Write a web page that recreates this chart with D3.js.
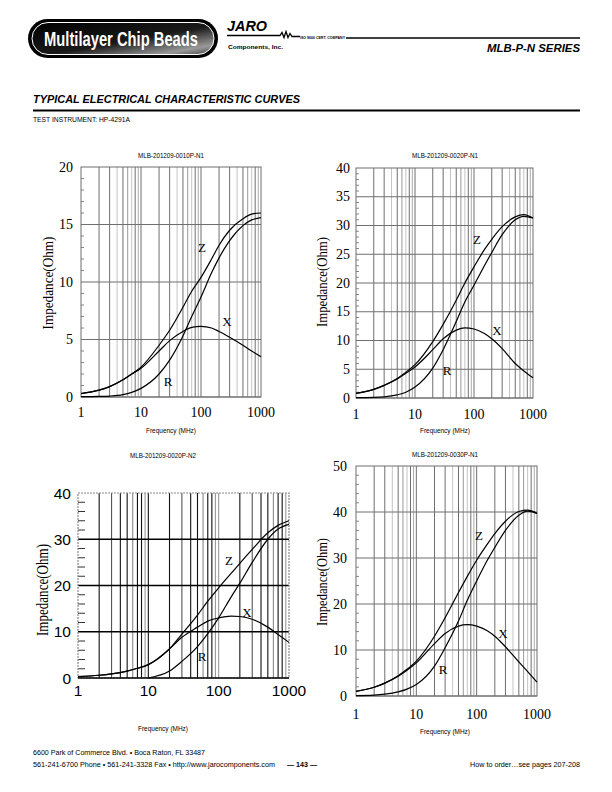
<!DOCTYPE html>
<html><head><meta charset="utf-8">
<script src="https://cdn.jsdelivr.net/npm/d3@7"></script>
<style>body{margin:0;background:#fff}svg{display:block}</style>
</head><body>
<svg id="page" width="612" height="792"></svg>
<script>
// ---------------- DATA ----------------
const freqs = [1, 2, 3, 5, 7, 10, 20, 30, 50, 70, 100, 150, 200, 300, 500, 700, 1000];
const xTickValues = [1, 10, 100, 1000];
const xTickLabels = ["1", "10", "100", "1000"];

// Chart 1: MLB-201209-0010P-N1
const c1Title = "MLB-201209-0010P-N1";
const c1YTicks = [0, 5, 10, 15, 20];
const c1Z = [0.3, 0.6, 0.9, 1.5, 2.0, 2.6, 4.5, 5.8, 7.8, 9.2, 10.4, 12.0, 13.2, 14.5, 15.5, 15.9, 16.0];
const c1X = [0.3, 0.6, 0.9, 1.5, 2.0, 2.5, 4.0, 4.9, 5.7, 6.05, 6.15, 6.0, 5.7, 5.2, 4.5, 4.0, 3.5];
const c1R = [0.03, 0.05, 0.08, 0.2, 0.4, 0.75, 2.0, 3.2, 5.3, 7.0, 8.7, 10.8, 12.1, 13.6, 14.9, 15.4, 15.6];

// Chart 2: MLB-201209-0020P-N1
const c2Title = "MLB-201209-0020P-N1";
const c2YTicks = [0, 5, 10, 15, 20, 25, 30, 35, 40];
const c2Z = [0.8, 1.5, 2.2, 3.4, 4.5, 5.8, 9.8, 12.8, 17.0, 20.0, 22.8, 25.8, 27.6, 29.8, 31.5, 31.9, 31.3];
const c2X = [0.8, 1.5, 2.2, 3.3, 4.3, 5.4, 8.4, 10.3, 11.8, 12.2, 12.0, 11.2, 10.3, 8.6, 6.0, 4.7, 3.5];
const c2R = [0.05, 0.1, 0.2, 0.55, 1.0, 1.9, 5.2, 8.4, 13.3, 16.7, 19.6, 23.0, 25.3, 28.4, 31.0, 31.6, 31.3];

// Chart 3: MLB-201209-0020P-N2
const c3Title = "MLB-201209-0020P-N2";
const c3YTicks = [0, 10, 20, 30, 40];
const c3Z = [0.3, 0.6, 0.9, 1.5, 2.1, 2.9, 6.3, 9.5, 13.6, 16.6, 19.5, 22.6, 24.8, 27.8, 31.4, 33.0, 34.0];
const c3X = [0.3, 0.6, 0.9, 1.5, 2.1, 2.9, 6.3, 8.8, 11.0, 12.3, 13.0, 13.4, 13.3, 12.7, 11.0, 9.4, 7.7];
const c3R = [null, null, null, null, null, 0, 1.5, 3.6, 6.8, 9.6, 13.0, 17.5, 20.5, 25.0, 30.0, 32.2, 33.2];

// Chart 4: MLB-201209-0030P-N1
const c4Title = "MLB-201209-0030P-N1";
const c4YTicks = [0, 10, 20, 30, 40, 50];
const c4Z = [1.0, 1.9, 2.8, 4.4, 5.8, 7.6, 13.0, 17.0, 22.5, 26.0, 29.5, 33.0, 35.3, 38.0, 40.1, 40.4, 39.7];
const c4X = [1.0, 1.9, 2.8, 4.3, 5.6, 7.2, 11.4, 13.6, 15.2, 15.5, 15.2, 14.2, 13.0, 10.7, 7.4, 5.3, 3.0];
const c4R = [0.1, 0.2, 0.4, 0.9, 1.5, 2.5, 6.5, 10.5, 16.3, 20.8, 25.0, 29.5, 32.3, 36.0, 39.3, 40.2, 39.7];

const seriesNames = ["Z", "X", "R"];

// ---------------- DRAWING ----------------
const svg = d3.select("#page");
const SANS = "'Liberation Sans Narrow','Arial Narrow','Liberation Sans',Arial,sans-serif";
const ARIAL = "'Liberation Sans',Arial,sans-serif";
const SERIF = "'Liberation Serif','Times New Roman',serif";

function txt(g, s, x, y, o) {
  const t = g.append("text").attr("x", x).attr("y", y).text(s)
    .attr("font-family", o.family || SANS).attr("font-size", o.size || 7)
    .attr("fill", o.fill || "#000");
  if (o.weight) t.attr("font-weight", o.weight);
  if (o.style) t.attr("font-style", o.style);
  if (o.anchor) t.attr("text-anchor", o.anchor);
  if (o.len) t.attr("textLength", o.len).attr("lengthAdjust", "spacingAndGlyphs");
  if (o.base) t.attr("dominant-baseline", o.base);
  return t;
}

// Header
const defs = svg.append("defs");
const grad = defs.append("linearGradient").attr("id", "pillGrad").attr("x1", "0").attr("x2", "1").attr("y1", "0").attr("y2", "1");
grad.append("stop").attr("offset", "0%").attr("stop-color", "#000");
grad.append("stop").attr("offset", "55%").attr("stop-color", "#1a1a1a");
grad.append("stop").attr("offset", "85%").attr("stop-color", "#9a9a9a");
grad.append("stop").attr("offset", "100%").attr("stop-color", "#444");
svg.append("rect").attr("x", 28).attr("y", 19).attr("width", 190).attr("height", 39).attr("rx", 19.5).attr("fill", "#000");
svg.append("rect").attr("x", 32).attr("y", 22.5).attr("width", 182).attr("height", 32).attr("rx", 16).attr("fill", "url(#pillGrad)").attr("stroke", "#fff").attr("stroke-width", 1);
txt(svg, "Multilayer Chip Beads", 44, 46, {size: 20, weight: "bold", fill: "#fff", len: 154});

txt(svg, "JARO", 227, 30.5, {family: ARIAL, size: 14.5, weight: "bold", style: "italic", len: 40});
svg.append("path").attr("d", "M227,35.5 H280 l2,-3 l2,5 l2,-6 l2,6 l2,-4 l2,3 H300").attr("fill", "none").attr("stroke", "#000").attr("stroke-width", 1.3);
txt(svg, "ISO 9000 CERT. COMPANY", 300, 39, {family: ARIAL, size: 3.5, weight: "bold", len: 45});
svg.append("line").attr("x1", 346).attr("x2", 580).attr("y1", 38).attr("y2", 38).attr("stroke", "#000").attr("stroke-width", 1.5);
txt(svg, "Components, Inc.", 228, 48.5, {family: ARIAL, size: 5.5, weight: "bold", len: 55});
txt(svg, "MLB-P-N SERIES", 580, 52, {family: ARIAL, size: 10, weight: "bold", style: "italic", anchor: "end", len: 93});

txt(svg, "TYPICAL ELECTRICAL CHARACTERISTIC CURVES", 33, 103, {family: ARIAL, size: 10, weight: "bold", style: "italic", len: 267});
svg.append("line").attr("x1", 33).attr("x2", 580).attr("y1", 110.5).attr("y2", 110.5).attr("stroke", "#000").attr("stroke-width", 2);
txt(svg, "TEST INSTRUMENT: HP-4291A", 33, 122, {size: 7, len: 97});

// Footer
txt(svg, "6600 Park of Commerce Blvd. • Boca Raton, FL 33487", 33, 755, {size: 7.5, len: 172});
txt(svg, "561-241-6700 Phone • 561-241-3328 Fax • http://www.jarocomponents.com", 33, 767, {size: 7.5, len: 242});
txt(svg, "— 143 —", 302, 767, {size: 7.5, anchor: "middle", weight: "bold", len: 30});
txt(svg, "How to order…see pages 207-208", 580, 767, {size: 7.5, anchor: "end", len: 110});

// Chart builder
function drawChart(c) {
  const g = svg.append("g");
  const x = d3.scaleLog().domain([1, 1000]).range([c.left, c.right]);
  const y = d3.scaleLinear().domain([0, c.yMax]).range([c.bottom, c.top]);
  const minorVals = [];
  [1, 10, 100].forEach(d => { for (let m = 2; m <= 9; m++) minorVals.push({v: m * d, m}); });
  minorVals.push({v: 10, m: 1}, {v: 100, m: 1});
  // vertical grid
  g.selectAll(null).data(minorVals).enter().append("line")
    .attr("x1", d => x(d.v)).attr("x2", d => x(d.v))
    .attr("y1", y(0)).attr("y2", y(c.yMax))
    .attr("stroke", d => c.vColor(d)).attr("stroke-width", c.vWidth);
  // horizontal grid
  const hVals = c.yTicks.filter(v => v > 0 && v < c.yMax);
  g.selectAll(null).data(hVals).enter().append("line")
    .attr("x1", x(1)).attr("x2", x(1000)).attr("y1", d => y(d)).attr("y2", d => y(d))
    .attr("stroke", c.hColor).attr("stroke-width", c.hWidth);
  // minor ticks on the left axis
  const minorY = d3.range(0, c.yMax + 0.001, c.minorStep).filter(v => !c.yTicks.includes(v));
  g.selectAll(null).data(minorY).enter().append("line")
    .attr("x1", x(1)).attr("x2", x(1) + c.minorLen).attr("y1", d => y(d)).attr("y2", d => y(d))
    .attr("stroke", c.minorColor).attr("stroke-width", 1);
  // frame
  g.append("rect").attr("x", x(1)).attr("y", y(c.yMax)).attr("width", x(1000) - x(1)).attr("height", y(0) - y(c.yMax))
    .attr("fill", "none").attr("stroke", c.frameColor).attr("stroke-width", c.frameWidth)
    .attr("stroke-dasharray", c.frameDash || null);
  g.append("line").attr("x1", x(1)).attr("x2", x(1000)).attr("y1", y(0)).attr("y2", y(0))
    .attr("stroke", c.baseColor).attr("stroke-width", c.baseWidth);
  // y tick labels
  c.yTicks.forEach(v => txt(g, String(v), x(1) - c.yLabGap, y(v), {family: c.tickFamily, size: c.tickSize, anchor: "end", base: "central"}));
  // x tick labels
  xTickValues.forEach((v, i) => txt(g, xTickLabels[i], x(v), c.xLabY, {family: c.tickFamily, size: c.tickSize, anchor: "middle", base: "central"}));
  // titles
  txt(g, c.title, c.titleX, c.titleY, {size: 7.5, anchor: "middle", base: "central", len: c.titleLen});
  txt(g, "Frequency (MHz)", c.freqX, c.freqY, {size: 7, anchor: "middle", base: "central", len: 50});
  txt(g, "Impedance(Ohm)", 0, 0, {family: SERIF, size: c.ylabSize, anchor: "middle", base: "central", len: c.ylabLen})
    .attr("transform", `translate(${c.ylabX},${c.ylabY}) rotate(-90)`);
  // curves
  const line = d3.line().defined(d => d[1] !== null)
    .x(d => x(d[0])).y(d => y(d[1])).curve(d3.curveMonotoneX);
  c.series.forEach(s => {
    const pts = freqs.map((f, i) => [f, s[i]]);
    g.append("path").attr("d", line(pts)).attr("fill", "none").attr("stroke", "#000").attr("stroke-width", 1.2);
  });
  seriesNames.forEach((n, i) => txt(g, n, c.labPos[i][0], c.labPos[i][1], {family: SERIF, size: c.letterSize, anchor: "middle", base: "central"}));
}

const lightMult = {4: "#c4c4c4", 7: "#c4c4c4", 9: "#aaaaaa", 6: "#999"};
const stdV = d => lightMult[d.m] || "#6f6f6f";

drawChart({
  title: c1Title, titleX: 171, titleY: 155, titleLen: 66,
  left: 81, right: 261, top: 167, bottom: 397, yMax: 20, yTicks: c1YTicks, minorStep: 1,
  vColor: stdV, vWidth: 1, hColor: "#6f6f6f", hWidth: 1, minorColor: "#888", minorLen: 3,
  frameColor: "#6f6f6f", frameWidth: 1, baseColor: "#6f6f6f", baseWidth: 1,
  tickFamily: SERIF, tickSize: 14, yLabGap: 8, xLabY: 412,
  freqX: 171, freqY: 430, ylabX: 48, ylabY: 283, ylabSize: 14, ylabLen: 93,
  series: [c1Z, c1X, c1R], labPos: [[202, 247], [227, 321], [168, 381]], letterSize: 13
});
drawChart({
  title: c2Title, titleX: 445, titleY: 155, titleLen: 66,
  left: 356, right: 533, top: 168, bottom: 398, yMax: 40, yTicks: c2YTicks, minorStep: 1,
  vColor: stdV, vWidth: 1, hColor: "#6f6f6f", hWidth: 1, minorColor: "#888", minorLen: 3,
  frameColor: "#6f6f6f", frameWidth: 1, baseColor: "#6f6f6f", baseWidth: 1,
  tickFamily: SERIF, tickSize: 14, yLabGap: 6, xLabY: 414,
  freqX: 445, freqY: 430, ylabX: 322, ylabY: 282, ylabSize: 14, ylabLen: 90,
  series: [c2Z, c2X, c2R], labPos: [[477, 239], [497, 330], [447, 370]], letterSize: 13
});
const c3Mult = {6: "#8a8a8a", 9: "#9a9a9a", 3: "#555"};
drawChart({
  title: c3Title, titleX: 163, titleY: 455, titleLen: 66,
  left: 78, right: 289, top: 493, bottom: 678, yMax: 40, yTicks: c3YTicks, minorStep: 2,
  vColor: d => (d.m === 1 && d.v === 100) ? "#999" : (c3Mult[d.m] || "#111"), vWidth: 1.1,
  hColor: "#000", hWidth: 1.3, minorColor: "#333", minorLen: 7,
  frameColor: "#8a8a8a", frameWidth: 1.2, frameDash: "2,1", baseColor: "#000", baseWidth: 1.3,
  tickFamily: ARIAL, tickSize: 15.5, yLabGap: 7, xLabY: 690,
  freqX: 163, freqY: 728, ylabX: 42, ylabY: 590, ylabSize: 17, ylabLen: 92,
  series: [c3Z, c3X, c3R], labPos: [[229, 560], [247, 612], [202, 656]], letterSize: 13
});
drawChart({
  title: c4Title, titleX: 445, titleY: 454, titleLen: 66,
  left: 356, right: 537, top: 466, bottom: 696, yMax: 50, yTicks: c4YTicks, minorStep: 2,
  vColor: stdV, vWidth: 1, hColor: "#6f6f6f", hWidth: 1, minorColor: "#888", minorLen: 3,
  frameColor: "#6f6f6f", frameWidth: 1, baseColor: "#6f6f6f", baseWidth: 1,
  tickFamily: SERIF, tickSize: 14, yLabGap: 9, xLabY: 714,
  freqX: 445, freqY: 731, ylabX: 322, ylabY: 582, ylabSize: 14, ylabLen: 88,
  series: [c4Z, c4X, c4R], labPos: [[479, 535], [503, 633], [443, 669]], letterSize: 13
});
</script>
</body></html>
